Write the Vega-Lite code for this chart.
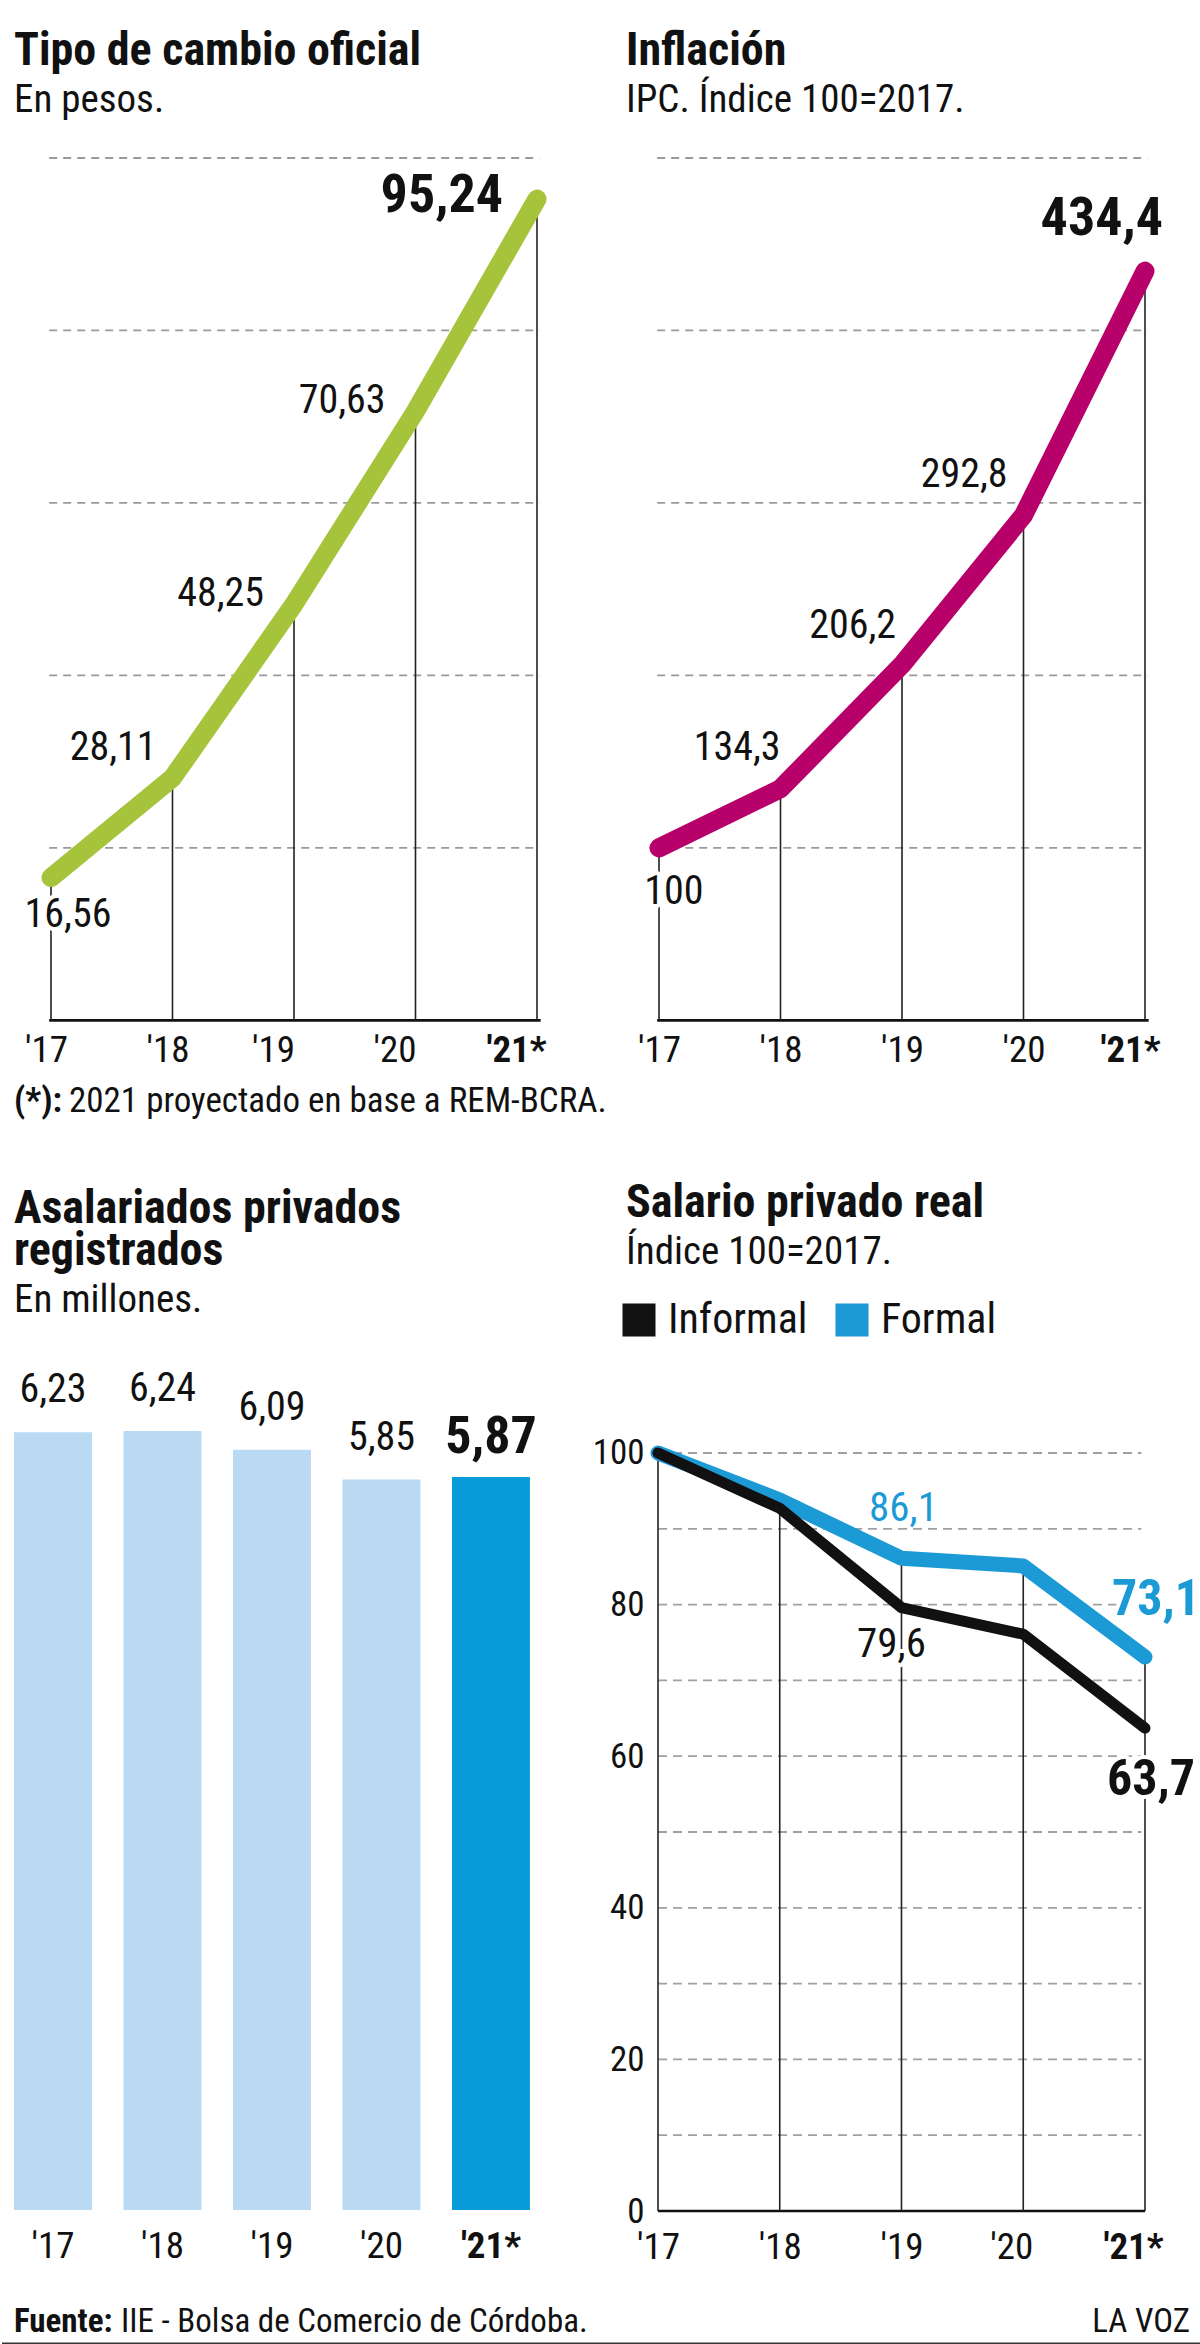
{
  "$schema": "https://vega.github.io/schema/vega-lite/v6.json",
  "padding": {"left": 0, "top": 28, "right": 0, "bottom": 0},
  "config": {
    "font": "Roboto Condensed, Liberation Sans Narrow, DejaVu Sans Condensed, Roboto, sans-serif",
    "view": {"stroke": null},
    "locale": {"number": {"decimal": ",", "thousands": ".", "grouping": [3], "currency": ["$", ""]}},
    "title": {"anchor": "start", "frame": "group", "fontSize": 46, "fontWeight": "bold", "color": "#111111", "subtitleFontSize": 39, "subtitleColor": "#111111", "subtitlePadding": 6, "lineHeight": 42},
    "axis": {"domain": false, "ticks": false, "grid": false, "labelColor": "#111111"},
    "text": {"color": "#111111"}
  },
  "columns": 2,
  "align": "none",
  "bounds": "flush",
  "spacing": {"row": 80, "column": 86},
  "resolve": {"scale": {"color": "independent"}, "legend": {"color": "independent"}},
  "concat": [
    {
      "width": 526,
      "height": 1104.3,
      "title": {"text": "Tipo de cambio oficial", "subtitle": "En pesos.", "offset": 36},
      "data": {"values": [
        {"year": 2017, "value": 16.56},
        {"year": 2018, "value": 28.11},
        {"year": 2019, "value": 48.25},
        {"year": 2020, "value": 70.63},
        {"year": 2021, "value": 95.24}
      ]},
      "layer": [
        {"data": {"values": [{"grid": 20}, {"grid": 40}, {"grid": 60}, {"grid": 80}, {"grid": 100}]},
         "mark": {"type": "rule", "stroke": "#9a9a9a", "strokeWidth": 1.8, "strokeDash": [8, 6]},
         "encoding": {
           "x": {"datum": 2016.985, "type": "quantitative", "scale": {"domain": [2016.6955, 2021.0247], "nice": false, "zero": false}},
           "x2": {"datum": 2021.02},
           "y": {"field": "grid", "type": "quantitative", "scale": {"domain": [-28.06, 100], "nice": false, "zero": false}, "axis": null}}},
        {"data": {"values": [{"base": 0}]},
         "mark": {"type": "rule", "stroke": "#111111", "strokeWidth": 2.6},
         "encoding": {
           "x": {"datum": 2016.985, "type": "quantitative", "scale": {"domain": [2016.6955, 2021.0247], "nice": false, "zero": false}},
           "x2": {"datum": 2021.03},
           "y": {"field": "base", "type": "quantitative", "scale": {"domain": [-28.06, 100], "nice": false, "zero": false}, "axis": null}}},
        {"mark": {"type": "rule", "stroke": "#222222", "strokeWidth": 1.6},
         "encoding": {
           "x": {"field": "year", "type": "quantitative", "scale": {"domain": [2016.6955, 2021.0247], "nice": false, "zero": false}},
           "y": {"field": "value", "type": "quantitative", "scale": {"domain": [-28.06, 100], "nice": false, "zero": false}, "axis": null},
           "y2": {"datum": 0}}},
        {"mark": {"type": "line", "color": "#A5C33B", "strokeWidth": 19, "strokeCap": "round", "strokeJoin": "round"},
         "encoding": {
           "x": {"field": "year", "type": "quantitative", "scale": {"domain": [2016.6955, 2021.0247], "nice": false, "zero": false},
             "axis": {"values": [2017, 2018, 2019, 2020, 2021], "title": null, "offset": -242, "labelPadding": 12, "labelFontSize": 37, "labelAngle": 0, "labelFlush": false, "labelOverlap": false,
               "labelExpr": "\"'\" + substring(toString(datum.value), 2, 4) + (datum.value == 2021 ? '*' : '')",
               "labelOffset": {"condition": {"test": "datum.value >= 2019", "value": -21}, "value": -5},
               "labelFontWeight": {"condition": {"test": "datum.value == 2021", "value": "bold"}, "value": "normal"}}},
           "y": {"field": "value", "type": "quantitative", "scale": {"domain": [-28.06, 100], "nice": false, "zero": false}, "axis": null}}},
        {"transform": [{"filter": "datum.year == 2017"}],
         "mark": {"type": "text", "align": "center", "baseline": "middle", "dx": 17, "dy": 37, "fontSize": 40, "fill": "white", "stroke": "white", "strokeWidth": 8, "strokeJoin": "round"},
         "encoding": {"x": {"field": "year", "type": "quantitative"}, "y": {"field": "value", "type": "quantitative", "axis": null}, "text": {"field": "value", "type": "quantitative", "format": ".2f"}}},
        {"transform": [{"filter": "datum.year == 2017"}],
         "mark": {"type": "text", "align": "center", "baseline": "middle", "dx": 17, "dy": 37, "fontSize": 40},
         "encoding": {"x": {"field": "year", "type": "quantitative"}, "y": {"field": "value", "type": "quantitative", "axis": null}, "text": {"field": "value", "type": "quantitative", "format": ".2f"}}},
        {"transform": [{"filter": "datum.year == 2018"}],
         "mark": {"type": "text", "align": "right", "baseline": "middle", "dx": -16, "dy": -30, "fontSize": 40},
         "encoding": {"x": {"field": "year", "type": "quantitative"}, "y": {"field": "value", "type": "quantitative", "axis": null}, "text": {"field": "value", "type": "quantitative", "format": ".2f"}}},
        {"transform": [{"filter": "datum.year == 2019 || datum.year == 2020"}],
         "mark": {"type": "text", "align": "right", "baseline": "middle", "dx": -30, "dy": -10, "fontSize": 40},
         "encoding": {"x": {"field": "year", "type": "quantitative"}, "y": {"field": "value", "type": "quantitative", "axis": null}, "text": {"field": "value", "type": "quantitative", "format": ".2f"}}},
        {"transform": [{"filter": "datum.year == 2021"}],
         "mark": {"type": "text", "align": "right", "baseline": "middle", "dx": -34, "dy": -3, "fontSize": 54, "fontWeight": "bold"},
         "encoding": {"x": {"field": "year", "type": "quantitative"}, "y": {"field": "value", "type": "quantitative", "axis": null}, "text": {"field": "value", "type": "quantitative", "format": ".2f"}}},
        {"data": {"values": [{"nota": "(*):"}]},
         "mark": {"type": "text", "align": "left", "baseline": "alphabetic", "dy": 92, "fontSize": 35, "fontWeight": "bold"},
         "encoding": {"x": {"datum": 2016.6955, "type": "quantitative"}, "y": {"datum": 0, "type": "quantitative", "axis": null}, "text": {"field": "nota"}}},
        {"data": {"values": [{"nota": "2021 proyectado en base a REM-BCRA."}]},
         "mark": {"type": "text", "align": "left", "baseline": "alphabetic", "dx": 55, "dy": 92, "fontSize": 35},
         "encoding": {"x": {"datum": 2016.6955, "type": "quantitative"}, "y": {"datum": 0, "type": "quantitative", "axis": null}, "text": {"field": "nota"}}}
      ]
    },
    {
      "width": 522,
      "height": 1104.3,
      "title": {"text": "Inflación", "subtitle": "IPC. Índice 100=2017.", "offset": 36},
      "data": {"values": [
        {"year": 2017, "value": 100},
        {"year": 2018, "value": 134.3},
        {"year": 2019, "value": 206.2},
        {"year": 2020, "value": 292.8},
        {"year": 2021, "value": 434.4}
      ]},
      "layer": [
        {"data": {"values": [{"grid": 100}, {"grid": 200}, {"grid": 300}, {"grid": 400}, {"grid": 500}]},
         "mark": {"type": "rule", "stroke": "#9a9a9a", "strokeWidth": 1.8, "strokeDash": [8, 6]},
         "encoding": {
           "x": {"datum": 2016.985, "type": "quantitative", "scale": {"domain": [2016.7284, 2021.0247], "nice": false, "zero": false}},
           "x2": {"datum": 2021.02},
           "y": {"field": "grid", "type": "quantitative", "scale": {"domain": [-140.3, 500], "nice": false, "zero": false}, "axis": null}}},
        {"data": {"values": [{"base": 0}]},
         "mark": {"type": "rule", "stroke": "#111111", "strokeWidth": 2.6},
         "encoding": {
           "x": {"datum": 2016.985, "type": "quantitative", "scale": {"domain": [2016.7284, 2021.0247], "nice": false, "zero": false}},
           "x2": {"datum": 2021.03},
           "y": {"field": "base", "type": "quantitative", "scale": {"domain": [-140.3, 500], "nice": false, "zero": false}, "axis": null}}},
        {"mark": {"type": "rule", "stroke": "#222222", "strokeWidth": 1.6},
         "encoding": {
           "x": {"field": "year", "type": "quantitative", "scale": {"domain": [2016.7284, 2021.0247], "nice": false, "zero": false}},
           "y": {"field": "value", "type": "quantitative", "scale": {"domain": [-140.3, 500], "nice": false, "zero": false}, "axis": null},
           "y2": {"datum": 0}}},
        {"mark": {"type": "line", "color": "#B8006B", "strokeWidth": 19, "strokeCap": "round", "strokeJoin": "round"},
         "encoding": {
           "x": {"field": "year", "type": "quantitative", "scale": {"domain": [2016.7284, 2021.0247], "nice": false, "zero": false},
             "axis": {"values": [2017, 2018, 2019, 2020, 2021], "title": null, "offset": -242, "labelPadding": 12, "labelFontSize": 37, "labelAngle": 0, "labelFlush": false, "labelOverlap": false,
               "labelExpr": "\"'\" + substring(toString(datum.value), 2, 4) + (datum.value == 2021 ? '*' : '')",
               "labelOffset": {"condition": {"test": "datum.value == 2021", "value": -15}, "value": 0},
               "labelFontWeight": {"condition": {"test": "datum.value == 2021", "value": "bold"}, "value": "normal"}}},
           "y": {"field": "value", "type": "quantitative", "scale": {"domain": [-140.3, 500], "nice": false, "zero": false}, "axis": null}}},
        {"transform": [{"filter": "datum.year == 2017"}],
         "mark": {"type": "text", "align": "center", "baseline": "middle", "dx": 15, "dy": 44, "fontSize": 40, "fill": "white", "stroke": "white", "strokeWidth": 8, "strokeJoin": "round"},
         "encoding": {"x": {"field": "year", "type": "quantitative"}, "y": {"field": "value", "type": "quantitative", "axis": null}, "text": {"field": "value", "type": "quantitative", "format": ".1~f"}}},
        {"transform": [{"filter": "datum.year == 2017"}],
         "mark": {"type": "text", "align": "center", "baseline": "middle", "dx": 15, "dy": 44, "fontSize": 40},
         "encoding": {"x": {"field": "year", "type": "quantitative"}, "y": {"field": "value", "type": "quantitative", "axis": null}, "text": {"field": "value", "type": "quantitative", "format": ".1~f"}}},
        {"transform": [{"filter": "datum.year == 2018"}],
         "mark": {"type": "text", "align": "right", "baseline": "middle", "dx": 0, "dy": -41, "fontSize": 40},
         "encoding": {"x": {"field": "year", "type": "quantitative"}, "y": {"field": "value", "type": "quantitative", "axis": null}, "text": {"field": "value", "type": "quantitative", "format": ".1~f"}}},
        {"transform": [{"filter": "datum.year == 2019"}],
         "mark": {"type": "text", "align": "right", "baseline": "middle", "dx": -6, "dy": -39, "fontSize": 40},
         "encoding": {"x": {"field": "year", "type": "quantitative"}, "y": {"field": "value", "type": "quantitative", "axis": null}, "text": {"field": "value", "type": "quantitative", "format": ".1~f"}}},
        {"transform": [{"filter": "datum.year == 2020"}],
         "mark": {"type": "text", "align": "right", "baseline": "middle", "dx": -16, "dy": -40, "fontSize": 40},
         "encoding": {"x": {"field": "year", "type": "quantitative"}, "y": {"field": "value", "type": "quantitative", "axis": null}, "text": {"field": "value", "type": "quantitative", "format": ".1~f"}}},
        {"transform": [{"filter": "datum.year == 2021"}],
         "mark": {"type": "text", "align": "right", "baseline": "middle", "dx": 18, "dy": -52, "fontSize": 54, "fontWeight": "bold"},
         "encoding": {"x": {"field": "year", "type": "quantitative"}, "y": {"field": "value", "type": "quantitative", "axis": null}, "text": {"field": "value", "type": "quantitative", "format": ".1~f"}}}
      ]
    },
    {
      "width": 526,
      "height": 867,
      "title": {"text": ["Asalariados privados", "registrados"], "subtitle": "En millones.", "offset": 22},
      "data": {"values": [
        {"year": 2017, "value": 6.23},
        {"year": 2018, "value": 6.24},
        {"year": 2019, "value": 6.09},
        {"year": 2020, "value": 5.85},
        {"year": 2021, "value": 5.87}
      ]},
      "layer": [
        {"mark": {"type": "bar"},
         "encoding": {
           "x": {"field": "year", "type": "ordinal",
             "scale": {"paddingInner": 0.288, "paddingOuter": 0.0459, "align": 0},
             "axis": {"title": null, "labelPadding": 18, "labelFontSize": 37, "labelAngle": 0,
               "labelExpr": "\"'\" + substring(toString(datum.value), 2, 4) + (datum.value == 2021 ? '*' : '')",
               "labelFontWeight": {"condition": {"test": "datum.value == 2021", "value": "bold"}, "value": "normal"}}},
           "y": {"field": "value", "type": "quantitative", "scale": {"domain": [0, 6.944], "nice": false}, "axis": null},
           "color": {"condition": {"test": "datum.year == 2021", "value": "#0A9BDB"}, "value": "#B9DAF2"}}},
        {"transform": [{"filter": "datum.year < 2021"}],
         "mark": {"type": "text", "baseline": "middle", "dy": -42, "fontSize": 40},
         "encoding": {"x": {"field": "year", "type": "ordinal"}, "y": {"field": "value", "type": "quantitative", "axis": null}, "text": {"field": "value", "type": "quantitative", "format": ".2f"}}},
        {"transform": [{"filter": "datum.year == 2021"}],
         "mark": {"type": "text", "baseline": "middle", "dy": -40, "fontSize": 52, "fontWeight": "bold"},
         "encoding": {"x": {"field": "year", "type": "ordinal"}, "y": {"field": "value", "type": "quantitative", "axis": null}, "text": {"field": "value", "type": "quantitative", "format": ".2f"}}}
      ]
    },
    {
      "width": 522,
      "height": 868,
      "title": {"text": "Salario privado real", "subtitle": "Índice 100=2017.", "offset": 26},
      "data": {"values": [
        {"year": 2017, "serie": "Formal", "value": 100},
        {"year": 2018, "serie": "Formal", "value": 93.8},
        {"year": 2019, "serie": "Formal", "value": 86.1},
        {"year": 2020, "serie": "Formal", "value": 85.1},
        {"year": 2021, "serie": "Formal", "value": 73.1},
        {"year": 2017, "serie": "Informal", "value": 100},
        {"year": 2018, "serie": "Informal", "value": 92.7},
        {"year": 2019, "serie": "Informal", "value": 79.6},
        {"year": 2020, "serie": "Informal", "value": 76.1},
        {"year": 2021, "serie": "Informal", "value": 63.7}
      ]},
      "layer": [
        {"data": {"values": [{"grid": 10}, {"grid": 20}, {"grid": 30}, {"grid": 40}, {"grid": 50}, {"grid": 60}, {"grid": 70}, {"grid": 80}, {"grid": 90}, {"grid": 100}]},
         "mark": {"type": "rule", "stroke": "#a0a0a0", "strokeWidth": 1.8, "strokeDash": [9, 6]},
         "encoding": {
           "x": {"datum": 2017, "type": "quantitative", "scale": {"domain": [2016.7372, 2021.0247], "nice": false, "zero": false}},
           "x2": {"datum": 2020.97},
           "y": {"field": "grid", "type": "quantitative", "scale": {"domain": [0, 114.51], "nice": false}}}},
        {"data": {"values": [{"base": 0}]},
         "mark": {"type": "rule", "stroke": "#111111", "strokeWidth": 2.6},
         "encoding": {
           "x": {"datum": 2017, "type": "quantitative", "scale": {"domain": [2016.7372, 2021.0247], "nice": false, "zero": false}},
           "x2": {"datum": 2021},
           "y": {"field": "base", "type": "quantitative", "scale": {"domain": [0, 114.51], "nice": false}}}},
        {"transform": [{"filter": "datum.serie == 'Formal'"}],
         "mark": {"type": "rule", "stroke": "#222222", "strokeWidth": 1.6},
         "encoding": {
           "x": {"field": "year", "type": "quantitative"},
           "y": {"field": "value", "type": "quantitative"},
           "y2": {"datum": 0}}},
        {"transform": [{"filter": "datum.serie == 'Formal'"}],
         "mark": {"type": "line", "strokeWidth": 15, "strokeCap": "round", "strokeJoin": "round"},
         "encoding": {
           "x": {"field": "year", "type": "quantitative", "scale": {"domain": [2016.7372, 2021.0247], "nice": false, "zero": false},
             "axis": {"values": [2017, 2018, 2019, 2020, 2021], "title": null, "labelPadding": 18, "labelFontSize": 37, "labelAngle": 0, "labelFlush": false, "labelOverlap": false,
               "labelExpr": "\"'\" + substring(toString(datum.value), 2, 4) + (datum.value == 2021 ? '*' : '')",
               "labelOffset": {"condition": {"test": "datum.value >= 2020", "value": -12}, "value": 0},
               "labelFontWeight": {"condition": {"test": "datum.value == 2021", "value": "bold"}, "value": "normal"}}},
           "y": {"field": "value", "type": "quantitative", "scale": {"domain": [0, 114.51], "nice": false},
             "axis": {"values": [0, 20, 40, 60, 80, 100], "title": null, "offset": -32, "labelPadding": 14, "labelFontSize": 35}},
           "color": {"field": "serie", "type": "nominal",
             "scale": {"domain": ["Informal", "Formal"], "range": ["#111111", "#1B9AD6"]},
             "legend": {"orient": "none", "legendX": -8, "legendY": -44, "direction": "horizontal", "title": null, "symbolType": "square", "symbolSize": 256, "symbolStrokeWidth": 17, "labelFontSize": 42, "labelColor": "#111111", "labelOffset": 8, "columnPadding": 2, "padding": 0}}}},
        {"transform": [{"filter": "datum.serie == 'Informal'"}],
         "mark": {"type": "line", "strokeWidth": 11, "strokeCap": "round", "strokeJoin": "round"},
         "encoding": {
           "x": {"field": "year", "type": "quantitative"},
           "y": {"field": "value", "type": "quantitative"},
           "color": {"field": "serie", "type": "nominal"}}},
        {"transform": [{"filter": "datum.serie == 'Formal' && datum.year == 2019"}],
         "mark": {"type": "text", "align": "center", "baseline": "middle", "dx": 2, "dy": -49, "fontSize": 41, "fill": "#1B9AD6"},
         "encoding": {"x": {"field": "year", "type": "quantitative"}, "y": {"field": "value", "type": "quantitative"}, "text": {"field": "value", "type": "quantitative", "format": ".1f"}}},
        {"transform": [{"filter": "datum.serie == 'Formal' && datum.year == 2021"}],
         "mark": {"type": "text", "align": "center", "baseline": "middle", "dx": 11, "dy": -57, "fontSize": 50, "fontWeight": "bold", "fill": "white", "stroke": "white", "strokeWidth": 8, "strokeJoin": "round"},
         "encoding": {"x": {"field": "year", "type": "quantitative"}, "y": {"field": "value", "type": "quantitative"}, "text": {"field": "value", "type": "quantitative", "format": ".1f"}}},
        {"transform": [{"filter": "datum.serie == 'Formal' && datum.year == 2021"}],
         "mark": {"type": "text", "align": "center", "baseline": "middle", "dx": 11, "dy": -57, "fontSize": 50, "fontWeight": "bold", "fill": "#1B9AD6"},
         "encoding": {"x": {"field": "year", "type": "quantitative"}, "y": {"field": "value", "type": "quantitative"}, "text": {"field": "value", "type": "quantitative", "format": ".1f"}}},
        {"transform": [{"filter": "datum.serie == 'Informal' && datum.year == 2019"}],
         "mark": {"type": "text", "align": "center", "baseline": "middle", "dx": -10, "dy": 37, "fontSize": 41, "fill": "white", "stroke": "white", "strokeWidth": 8, "strokeJoin": "round"},
         "encoding": {"x": {"field": "year", "type": "quantitative"}, "y": {"field": "value", "type": "quantitative"}, "text": {"field": "value", "type": "quantitative", "format": ".1f"}}},
        {"transform": [{"filter": "datum.serie == 'Informal' && datum.year == 2019"}],
         "mark": {"type": "text", "align": "center", "baseline": "middle", "dx": -10, "dy": 37, "fontSize": 41},
         "encoding": {"x": {"field": "year", "type": "quantitative"}, "y": {"field": "value", "type": "quantitative"}, "text": {"field": "value", "type": "quantitative", "format": ".1f"}}},
        {"transform": [{"filter": "datum.serie == 'Informal' && datum.year == 2021"}],
         "mark": {"type": "text", "align": "center", "baseline": "middle", "dx": 6, "dy": 52, "fontSize": 50, "fontWeight": "bold", "fill": "white", "stroke": "white", "strokeWidth": 8, "strokeJoin": "round"},
         "encoding": {"x": {"field": "year", "type": "quantitative"}, "y": {"field": "value", "type": "quantitative"}, "text": {"field": "value", "type": "quantitative", "format": ".1f"}}},
        {"transform": [{"filter": "datum.serie == 'Informal' && datum.year == 2021"}],
         "mark": {"type": "text", "align": "center", "baseline": "middle", "dx": 6, "dy": 52, "fontSize": 50, "fontWeight": "bold"},
         "encoding": {"x": {"field": "year", "type": "quantitative"}, "y": {"field": "value", "type": "quantitative"}, "text": {"field": "value", "type": "quantitative", "format": ".1f"}}}
      ]
    },
    {
      "width": 526,
      "height": 53,
      "data": {"values": [{"fuente": "IIE - Bolsa de Comercio de Córdoba.", "firma": "LA VOZ"}]},
      "layer": [
        {"mark": {"type": "rule", "stroke": "#333333", "strokeWidth": 3},
         "encoding": {
           "x": {"datum": -0.02281, "type": "quantitative", "scale": {"domain": [0, 1], "nice": false, "zero": false}, "axis": null},
           "x2": {"datum": 2.25856},
           "y": {"datum": 0, "type": "quantitative", "scale": {"domain": [0, 1], "nice": false}, "axis": null}}},
        {"mark": {"type": "text", "align": "left", "baseline": "alphabetic", "dy": -12, "fontSize": 33, "fontWeight": "bold"},
         "encoding": {
           "x": {"datum": 0, "type": "quantitative", "axis": null},
           "y": {"datum": 0, "type": "quantitative", "axis": null},
           "text": {"value": "Fuente:"}}},
        {"mark": {"type": "text", "align": "left", "baseline": "alphabetic", "dx": 107, "dy": -12, "fontSize": 33},
         "encoding": {
           "x": {"datum": 0, "type": "quantitative", "axis": null},
           "y": {"datum": 0, "type": "quantitative", "axis": null},
           "text": {"field": "fuente"}}},
        {"mark": {"type": "text", "align": "right", "baseline": "alphabetic", "dy": -12, "fontSize": 33},
         "encoding": {
           "x": {"datum": 2.23574, "type": "quantitative", "axis": null},
           "y": {"datum": 0, "type": "quantitative", "axis": null},
           "text": {"field": "firma"}}}
      ]
    }
  ]
}
